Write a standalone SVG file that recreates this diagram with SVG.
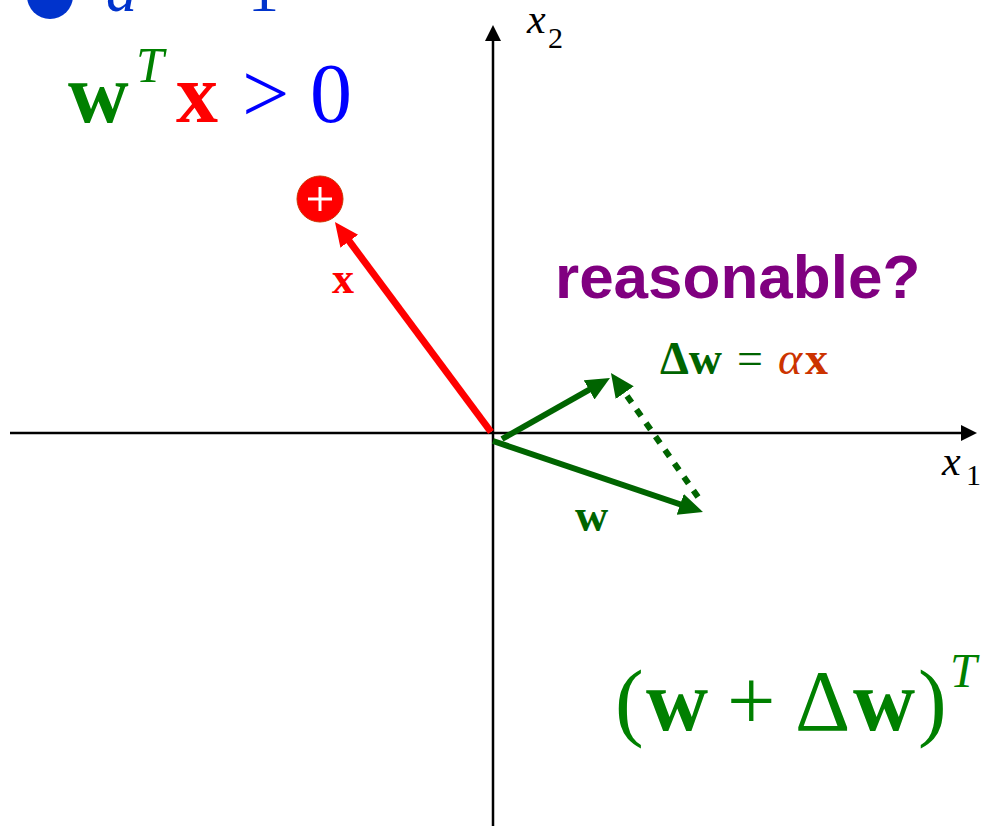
<svg xmlns="http://www.w3.org/2000/svg" width="984" height="826" viewBox="0 0 984 826">
<style>
.serif{font-family:"Liberation Serif","Times New Roman",serif}
.sans{font-family:"Liberation Sans",Arial,sans-serif}
.b{font-weight:bold}
.i{font-style:italic}
.axis{stroke:#000;stroke-width:2.5;fill:none}
.gv{stroke:#006400;stroke-width:6;fill:none}
</style>
<defs>
<marker id="ahK" markerUnits="userSpaceOnUse" markerWidth="20" markerHeight="20" refX="6" refY="8" orient="auto"><path d="M0,0 L16,8 L0,16 z" fill="#000"/></marker>
<marker id="ahR" markerUnits="userSpaceOnUse" markerWidth="26" markerHeight="24" refX="10" refY="11" orient="auto"><path d="M0,0 L24,11 L0,22 z" fill="#ff0000"/></marker>
<marker id="ahG" markerUnits="userSpaceOnUse" markerWidth="26" markerHeight="24" refX="10" refY="11" orient="auto"><path d="M0,0 L24,11 L0,22 z" fill="#006400"/></marker>
</defs>

<g id="header">
<circle cx="50" cy="-4" r="23" fill="#0033cc"/>
<text class="serif" font-size="62" fill="#0033cc" y="11"><tspan x="106" class="i">a</tspan><tspan x="156">=</tspan><tspan x="248">1</tspan></text>
</g>

<g id="condition">
<text class="serif" font-size="84" y="122"><tspan x="68" class="b" fill="#008000">w</tspan><tspan x="176" class="b" fill="#ff0000">x</tspan><tspan x="242" fill="#0000ff">&gt;</tspan><tspan x="310" fill="#0000ff">0</tspan></text>
<text class="serif i" font-size="50" fill="#008000" x="136" y="82">T</text>
</g>

<g id="connectors">
<line class="axis" x1="10" y1="433" x2="967" y2="433" marker-end="url(#ahK)"/>
<line class="axis" x1="493" y1="826" x2="493" y2="35" marker-end="url(#ahK)"/>
<line x1="491" y1="432" x2="343.3" y2="233.2" stroke="#ff0000" stroke-width="7" marker-end="url(#ahR)"/>
<line class="gv" x1="502" y1="439" x2="597.8" y2="384.9" marker-end="url(#ahG)"/>
<line class="gv" x1="493" y1="441" x2="689.7" y2="507.5" marker-end="url(#ahG)"/>
<line class="gv" x1="698" y1="497" x2="619" y2="384.5" stroke-width="7.5" stroke-dasharray="8 8.5" marker-end="url(#ahG)"/>
</g>

<g id="point-plus">
<circle cx="320" cy="199" r="23" fill="#ff0000" stroke="#cc3300" stroke-width="1"/>
<path d="M308,199 H332 M320,187 V211" stroke="#fff" stroke-width="3" fill="none"/>
</g>

<g id="label-x">
<text class="serif b" font-size="44" fill="#ff0000" x="332" y="293">x</text>
</g>

<g id="label-w">
<text class="serif b" font-size="46" fill="#006400" x="575" y="531">w</text>
</g>

<g id="label-dw">
<text class="serif" font-size="46" y="374"><tspan x="660" class="b" fill="#006400">Δw</tspan><tspan x="737" fill="#006400">=</tspan><tspan x="778" class="i" fill="#cc3300">α</tspan><tspan x="805" class="b" fill="#cc3300">x</tspan></text>
</g>

<g id="reasonable">
<text class="sans b" font-size="62" fill="#800080" x="555" y="298">reasonable?</text>
</g>

<g id="axis-labels">
<text class="serif" fill="#000"><tspan class="i" font-size="42" x="942" y="475">x</tspan><tspan font-size="30" x="966" y="485">1</tspan></text>
<text class="serif" fill="#000"><tspan class="i" font-size="42" x="527" y="33">x</tspan><tspan font-size="30" x="548" y="48">2</tspan></text>
</g>

<g id="update">
<text class="serif" font-size="86" fill="#008000" y="730"><tspan x="615">(</tspan><tspan x="646" class="b">w</tspan><tspan x="727">+</tspan><tspan x="795">Δ</tspan><tspan x="853" class="b">w</tspan><tspan x="918">)</tspan></text>
<text class="serif i" font-size="48" fill="#008000" x="950" y="687">T</text>
</g>
</svg>
